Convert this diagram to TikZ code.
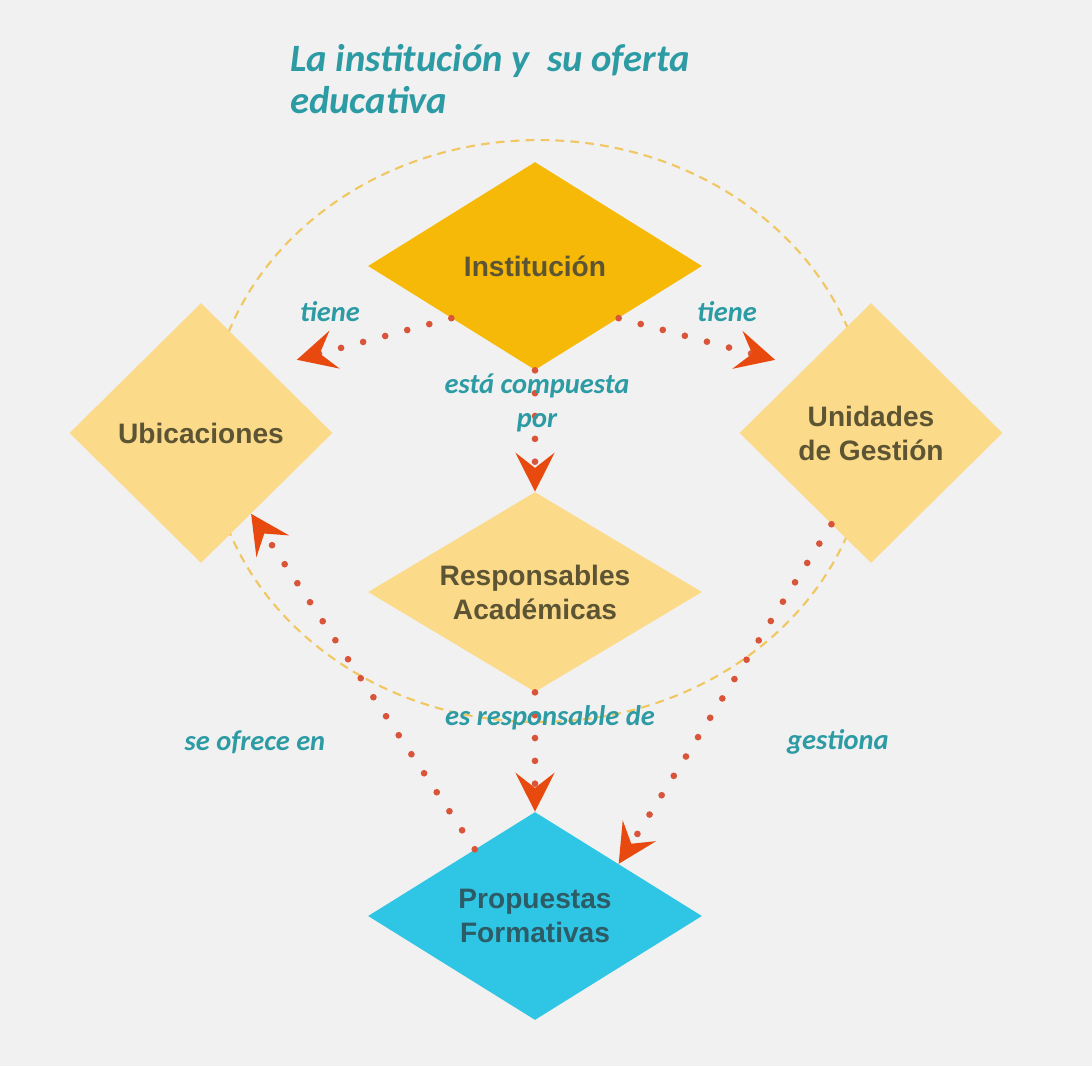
\documentclass[tikz,border=0pt]{standalone}
\usepackage{fontspec}
\setmainfont{Liberation Sans}
\newfontfamily\calibrifont{Carlito}
\usetikzlibrary{shapes.geometric, arrows.meta, calc}
\definecolor{bgColor}{HTML}{F1F1F1}
\definecolor{goldColor}{HTML}{F6B908}
\definecolor{paleColor}{HTML}{FBDA8A}
\definecolor{cyanColor}{HTML}{2FC5E4}
\definecolor{labelColor}{HTML}{2C9BA4}
\definecolor{dotColor}{HTML}{D9553A}
\definecolor{tipColor}{HTML}{E8490E}
\definecolor{ringColor}{HTML}{F0C760}
\definecolor{textColor}{HTML}{5C5433}
\definecolor{darkTeal}{HTML}{2D5B66}

\begin{document}
\begin{tikzpicture}[x=0.02cm, y=-0.02cm,
    box/.style={diamond, inner sep=0pt, shape aspect=1.6, align=center,
        font=\fontsize{16}{19.3}\selectfont\bfseries, text=textColor},
    rel/.style={dotColor, line width=3.8pt, line cap=round, dash pattern=on 0pt off 13pt,
        -{Stealth[length=22pt, width=22pt, inset=8.5pt, color=tipColor]}},
    lbl/.style={labelColor, font=\calibrifont\fontsize{16.2}{19}\selectfont\bfseries\itshape}]
    \fill[bgColor] (0,0) rectangle (1092,1066);

    % dashed ring behind the diamonds
    \draw[ringColor, line width=1.2pt, dash pattern=on 5pt off 3.5pt]
        (539,431) ellipse [x radius=6.6cm, y radius=5.82cm];

    \node[anchor=west, align=left, labelColor,
        font=\calibrifont\fontsize{22}{23.8}\selectfont\bfseries\itshape]
        (title) at (284,79) {La institución y\ \ su oferta\\educativa};

    \node[box, fill=goldColor, minimum width=6.68cm, minimum height=4.16cm] (inst) at (535,266) {Institución};
    \node[box, fill=paleColor, minimum width=5.26cm, minimum height=5.2cm] (ubic) at (201,433) {Ubicaciones};
    \node[box, fill=paleColor, minimum width=5.26cm, minimum height=5.2cm] (unid) at (871,433) {Unidades\\de Gestión};
    \node[box, fill=paleColor, minimum width=6.68cm, minimum height=4cm] (resp) at (535,592) {Responsables\\Académicas};
    \node[box, fill=cyanColor, text=darkTeal, minimum width=6.68cm, minimum height=4.16cm] (prop) at (535,916) {Propuestas\\Formativas};

    \draw[rel, shorten >=0.62cm] (inst.south west) -- (ubic.north east);
    \draw[rel, shorten >=0.62cm] (inst.south east) -- (unid.north west);
    \draw[rel] (inst.south) -- (resp.north);
    \draw[rel] (resp.south) -- (prop.north);
    \draw[rel] ($(prop.north)!0.36!(prop.west)$) -- ($(ubic.east)!0.62!(ubic.south)$);
    \draw[rel] ($(unid.south)!0.3!(unid.west)$) -- (prop.north east);

    \node[lbl] (tieneL) at (330,312) {tiene};
    \node[lbl] (tieneR) at (727,312) {tiene};
    \node[lbl, align=center] (compuesta) at (537,403) {está compuesta\\por};
    \node[lbl] (responsable) at (550,718) {es responsable de};
    \node[lbl] (ofrece) at (255,742) {se ofrece en};
    \node[lbl] (gestiona) at (838,742) {gestiona};
\end{tikzpicture}
\end{document}
